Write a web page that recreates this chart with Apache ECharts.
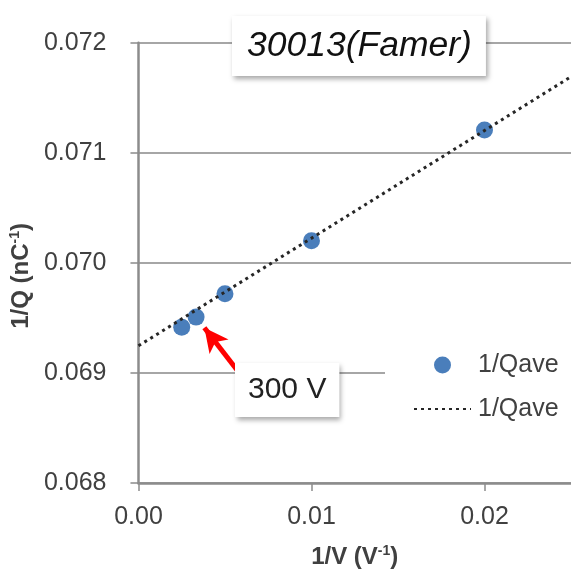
<!DOCTYPE html>
<html>
<head>
<meta charset="utf-8">
<script src="https://cdn.jsdelivr.net/npm/echarts@6/dist/echarts.min.js"></script>
<style>
  html, body { margin: 0; padding: 0; background: #fff; }
  #chart { width: 571px; height: 574px; }
</style>
</head>
<body>
<div id="chart"></div>
<script>
// Reciprocal bias voltage (V^-1): 400, 300, 200, 100 and 50 V
const invVoltage = [0.0025, 0.00333, 0.005, 0.01, 0.02];
// Mean reciprocal collected charge (nC^-1)
const invCharge = [0.069416, 0.069507, 0.069719, 0.070200, 0.071207];

// Linear trendline, given by its two end points
const fitX = [0, 0.025];
const fitY = [0.069246, 0.071691];

// Axis ticks
const xTickLabels = ['0.00', '0.01', '0.02'];
const yTickLabels = ['0.068', '0.069', '0.070', '0.071', '0.072'];

// Annotation arrow pointing at the 300 V point (data coordinates)
const arrowFrom = [0.00591, 0.068983];
const arrowTo = [0.00381, 0.06941];

const legendText = '1/Qave';
const FONT = '"Liberation Sans", Arial, sans-serif';

const X_MIN = 0, X_MAX = 0.025, X_STEP = 0.01;
const Y_MIN = 0.068, Y_MAX = 0.072, Y_STEP = 0.001;

function tickLabel(labels, min, step) {
  return function (v) {
    const i = Math.round((v - min) / step);
    if (Math.abs(v - (min + i * step)) > step * 1e-3) return '';
    return labels[i] !== undefined ? labels[i] : '';
  };
}

const chart = echarts.init(document.getElementById('chart'), null, { renderer: 'canvas' });

const boxStyle = {
  backgroundColor: '#fff',
  shadowColor: 'rgba(0,0,0,0.35)',
  shadowBlur: 5,
  shadowOffsetX: 2,
  shadowOffsetY: 3
};

chart.setOption({
  backgroundColor: '#fff',
  animation: false,
  title: [
    Object.assign({
      text: '30013(Famer)',
      left: 232,
      top: 16,
      padding: [8, 14, 8, 15],
      textStyle: {
        fontFamily: FONT,
        fontStyle: 'italic',
        fontWeight: 'normal',
        fontSize: 35.5,
        lineHeight: 44,
        color: '#111'
      }
    }, boxStyle),
    Object.assign({
      text: '300 V',
      left: 235,
      top: 363,
      padding: [9, 13],
      textStyle: {
        fontFamily: FONT,
        fontWeight: 'normal',
        fontSize: 30,
        lineHeight: 36,
        color: '#222'
      }
    }, boxStyle)
  ],
  legend: {
    orient: 'vertical',
    left: 385,
    top: 340,
    padding: [12, 20, 12, 28],
    backgroundColor: '#fff',
    itemWidth: 57,
    itemHeight: 17,
    itemGap: 18,
    data: [
      'measured',
      { name: 'linear fit', itemStyle: { color: 'rgba(0,0,0,0)', opacity: 0, borderWidth: 0 } }
    ],
    formatter: function () { return legendText; },
    textStyle: {
      fontFamily: FONT,
      fontSize: 25,
      lineHeight: 26,
      color: '#404040',
      padding: [0, 0, 0, 2]
    }
  },
  grid: {
    left: 133,
    right: -2,
    top: 42.7,
    bottom: 90.7,
    containLabel: false
  },
  xAxis: {
    type: 'value',
    min: X_MIN,
    max: X_MAX,
    interval: X_STEP,
    name: '1/V (V{sup|-1})',
    nameLocation: 'middle',
    nameGap: 61,
    nameTextStyle: {
      fontFamily: FONT,
      fontWeight: 'bold',
      fontSize: 24,
      color: '#404040',
      rich: {
        sup: { fontFamily: FONT, fontWeight: 'bold', fontSize: 14, color: '#404040', verticalAlign: 'top', padding: [0, 0, 12, 0] }
      }
    },
    axisLine: { show: true, lineStyle: { color: '#8c8c8c', width: 2.5 } },
    axisTick: { show: true, length: 8, lineStyle: { color: '#8c8c8c', width: 1.5 } },
    splitLine: { show: false },
    axisLabel: {
      margin: 22,
      fontFamily: FONT,
      fontSize: 25,
      color: '#404040',
      showMaxLabel: false,
      formatter: tickLabel(xTickLabels, X_MIN, X_STEP)
    }
  },
  yAxis: {
    type: 'value',
    min: Y_MIN,
    max: Y_MAX,
    interval: Y_STEP,
    name: '1/Q (nC{sup|-1})',
    nameLocation: 'middle',
    nameGap: 95,
    nameTextStyle: {
      fontFamily: FONT,
      fontWeight: 'bold',
      fontSize: 24,
      color: '#404040',
      padding: [0, 26, 0, 0],
      rich: {
        sup: { fontFamily: FONT, fontWeight: 'bold', fontSize: 14, color: '#404040', verticalAlign: 'top', padding: [0, 0, 12, 0] }
      }
    },
    axisLine: { show: true, lineStyle: { color: '#8c8c8c', width: 2.5 } },
    axisTick: { show: true, length: 8, lineStyle: { color: '#8c8c8c', width: 1.5 } },
    splitLine: { show: true, lineStyle: { color: '#a6a6a6', width: 2 } },
    axisLabel: {
      margin: 32,
      fontFamily: FONT,
      fontSize: 25,
      color: '#404040',
      formatter: tickLabel(yTickLabels, Y_MIN, Y_STEP)
    }
  },
  series: [
    {
      name: 'linear fit',
      type: 'line',
      data: fitX.map((x, i) => [x, fitY[i]]),
      symbol: 'none',
      showSymbol: false,
      clip: true,
      z: 3,
      lineStyle: { color: '#262626', width: 3, type: [3, 4] },
      itemStyle: { color: '#262626' },
      silent: true
    },
    {
      name: 'measured',
      type: 'scatter',
      data: invVoltage.map((x, i) => [x, invCharge[i]]),
      symbol: 'circle',
      symbolSize: 17,
      z: 2,
      itemStyle: { color: '#4a7ebb', opacity: 1 },
      markLine: {
        silent: true,
        symbol: ['none', 'arrow'],
        symbolSize: [18, 24],
        label: { show: false },
        lineStyle: { color: '#ff0000', width: 5, type: 'solid' },
        data: [[{ coord: arrowFrom }, { coord: arrowTo }]]
      }
    }
  ]
});
</script>
</body>
</html>
